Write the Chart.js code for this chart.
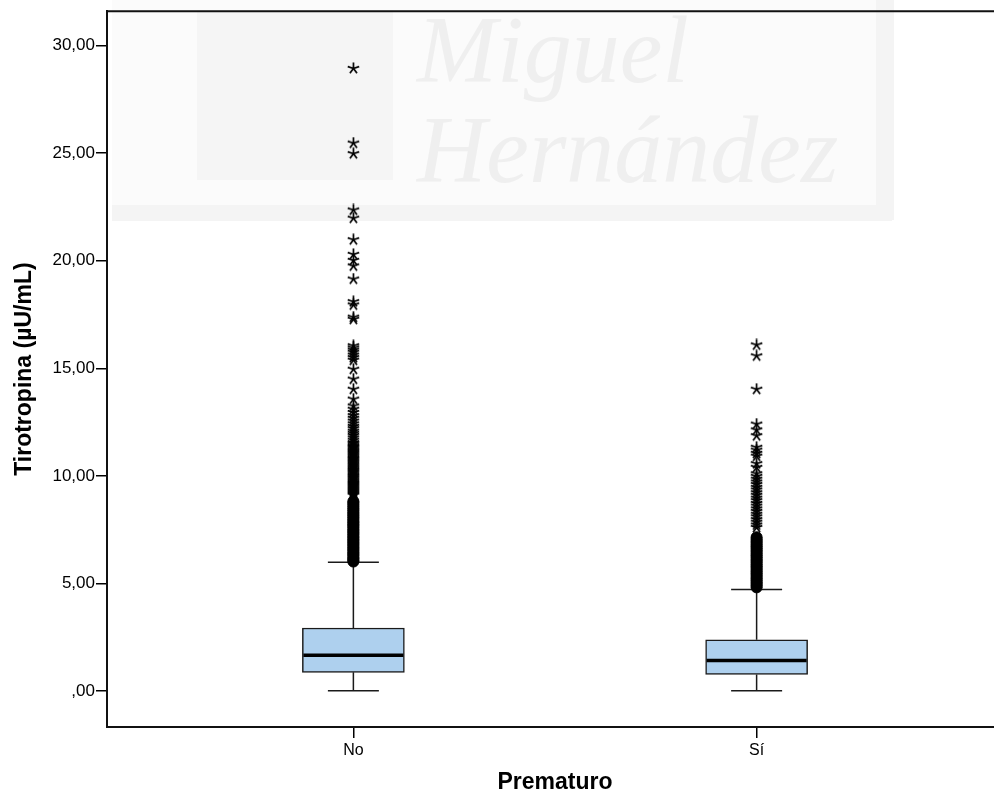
<!DOCTYPE html>
<html>
<head>
<meta charset="utf-8">
<script src="https://cdn.jsdelivr.net/npm/chart.js@4.4.1/dist/chart.umd.min.js"></script>
<style>
  html, body { margin: 0; padding: 0; background: #fff; overflow: hidden; }
</style>
</head>
<body>
<canvas id="boxChart" width="1010" height="800"></canvas>
<script>
// Boxplot: Tirotropina by Prematuro (SPSS style)
const categories = ['No', 'Sí'];
const whiskerLow = [0.01, 0.01];
const q1 = [0.87, 0.77];
const median = [1.67, 1.42];
const q3 = [2.93, 2.38];
const whiskerHigh = [5.99, 4.72];

// outliers (circles) and extremes (stars) per group
const circlesNo = [6.02, 6.08, 6.15, 6.21, 6.3, 6.37, 6.44, 6.52, 6.6, 6.67, 6.75, 6.83, 6.9, 6.98,
  7.05, 7.13, 7.2, 7.29, 7.36, 7.44, 7.51, 7.6, 7.68, 7.75, 7.83, 7.9, 7.99, 8.07, 8.15, 8.23,
  8.31, 8.4, 8.48, 8.57, 8.66, 8.75, 8.82];
const starsNo = [28.94, 25.47, 24.98, 22.36, 21.98, 20.98, 20.3, 20.02, 19.76, 19.15, 18.1, 17.95,
  17.38, 17.28, 16.05, 15.95, 15.85, 15.75, 15.62, 15.5, 15.38, 14.96, 14.5, 14.03, 13.57, 13.25,
  13.1, 12.95, 12.8, 12.68, 12.55, 12.42, 12.3, 12.2, 12.08, 11.98, 11.88, 11.77, 11.66, 11.55,
  11.5, 11.43, 11.37, 11.32, 11.26, 11.2, 11.15, 11.1, 11.04, 10.98, 10.93, 10.87, 10.81, 10.76,
  10.7, 10.65, 10.6, 10.54, 10.48, 10.42, 10.37, 10.31, 10.26, 10.2, 10.15, 10.09, 10.03, 9.98,
  9.92, 9.87, 9.81, 9.76, 9.7, 9.65, 9.6, 9.55, 9.5, 9.45, 9.4, 9.35, 9.3, 9.25, 9.2, 9.15, 9.1];
const circlesSi = [4.82, 4.9, 4.98, 5.06, 5.14, 5.22, 5.3, 5.39, 5.47, 5.55, 5.63, 5.72, 5.8, 5.88,
  5.97, 6.05, 6.13, 6.22, 6.3, 6.38, 6.47, 6.55, 6.64, 6.72, 6.8, 6.89, 6.97, 7.06, 7.15];
const starsSi = [16.09, 15.58, 14.03, 12.41, 12.14, 11.87, 11.33, 11.2, 11.05, 10.92, 10.57, 10.4,
  10.1, 9.98, 9.85, 9.72, 9.6, 9.47, 9.35, 9.22, 9.1, 8.97, 8.85, 8.72, 8.6, 8.47, 8.35, 8.22,
  8.1, 7.97, 7.85, 7.72, 7.6];

const yTicks = [0, 5, 10, 15, 20, 25, 30];

const FONT = 'Liberation Sans, Arial, sans-serif';
const BOX_W = 102;

// five-armed asterisk like SPSS extreme marker
function makeStar(size) {
  const c = document.createElement('canvas');
  c.width = size; c.height = size;
  const g = c.getContext('2d');
  const m = size / 2, r = size / 2 - 0.5;
  g.strokeStyle = '#000';
  g.lineWidth = 1.7;
  g.beginPath();
  for (let k = 0; k < 5; k++) {
    const a = -Math.PI / 2 + k * 2 * Math.PI / 5;
    g.moveTo(m, m);
    g.lineTo(m + r * Math.cos(a), m + r * Math.sin(a));
  }
  g.stroke();
  return c;
}
const starImg = makeStar(13);

const toPts = (vals, i) => vals.map(v => ({ x: i, y: v }));

// faint university watermark behind the plot
const watermark = {
  id: 'watermark',
  beforeDraw(chart) {
    const ctx = chart.ctx;
    ctx.save();
    ctx.fillStyle = '#fff';
    ctx.fillRect(0, 0, chart.width, chart.height);
    ctx.fillStyle = '#f4f4f4';
    ctx.fillRect(112, 205, 780, 16);
    ctx.fillRect(876, 0, 18, 220);
    ctx.fillStyle = '#fbfbfb';
    ctx.fillRect(112, 0, 764, 205);
    ctx.fillStyle = '#f5f5f5';
    ctx.fillRect(197, 10, 196, 170);
    ctx.fillStyle = '#efefef';
    ctx.font = 'italic 96px "Liberation Serif", serif';
    ctx.textBaseline = 'alphabetic';
    ctx.fillText('Miguel', 417, 82);
    ctx.fillText('Hernández', 417, 182);
    ctx.restore();
  }
};

// whiskers, caps and medians drawn through the scales
const boxParts = {
  id: 'boxParts',
  beforeDatasetsDraw(chart) {
    const { ctx, scales: { x, y } } = chart;
    ctx.save();
    ctx.strokeStyle = '#1a1a1a';
    ctx.lineWidth = 1.5;
    categories.forEach((c, i) => {
      const cx = x.getPixelForValue(i);
      const capHalf = BOX_W / 4;
      ctx.beginPath();
      ctx.moveTo(cx, y.getPixelForValue(q3[i]));
      ctx.lineTo(cx, y.getPixelForValue(whiskerHigh[i]));
      ctx.moveTo(cx, y.getPixelForValue(q1[i]));
      ctx.lineTo(cx, y.getPixelForValue(whiskerLow[i]));
      ctx.moveTo(cx - capHalf, y.getPixelForValue(whiskerHigh[i]));
      ctx.lineTo(cx + capHalf, y.getPixelForValue(whiskerHigh[i]));
      ctx.moveTo(cx - capHalf, y.getPixelForValue(whiskerLow[i]));
      ctx.lineTo(cx + capHalf, y.getPixelForValue(whiskerLow[i]));
      ctx.stroke();
    });
    ctx.restore();
  },
  afterDatasetsDraw(chart) {
    const { ctx, scales: { x, y } } = chart;
    ctx.save();
    ctx.strokeStyle = '#000';
    ctx.lineWidth = 3.5;
    categories.forEach((c, i) => {
      const cx = x.getPixelForValue(i);
      const my = y.getPixelForValue(median[i]);
      ctx.beginPath();
      ctx.moveTo(cx - BOX_W / 2 + 1, my);
      ctx.lineTo(cx + BOX_W / 2 - 1, my);
      ctx.stroke();
    });
    // frame top
    const a = chart.chartArea;
    ctx.lineWidth = 2;
    ctx.strokeStyle = '#111';
    ctx.beginPath();
    ctx.moveTo(a.left, a.top);
    ctx.lineTo(a.right, a.top);
    ctx.stroke();
    ctx.restore();
  }
};

const ctx = document.getElementById('boxChart').getContext('2d');

new Chart(ctx, {
  type: 'bar',
  data: {
    datasets: [
      {
        label: 'box',
        data: categories.map((c, i) => ({ x: i, y: [q1[i], q3[i]] })),
        backgroundColor: 'rgb(174, 208, 238)',
        borderColor: '#1a1a1a',
        borderWidth: 1.5,
        borderSkipped: false,
        barThickness: BOX_W
      },
      {
        type: 'scatter',
        label: 'outliers',
        data: toPts(circlesNo, 0).concat(toPts(circlesSi, 1)),
        pointStyle: 'circle',
        pointRadius: 5.5,
        backgroundColor: '#000',
        borderColor: '#000',
        borderWidth: 1
      },
      {
        type: 'scatter',
        label: 'extremes',
        data: toPts(starsNo, 0).concat(toPts(starsSi, 1)),
        pointStyle: starImg,
        pointRadius: 6
      }
    ]
  },
  options: {
    responsive: false,
    animation: false,
    layout: { padding: { top: 9, right: 5.5, left: 0, bottom: 0 } },
    plugins: { legend: { display: false }, tooltip: { enabled: false } },
    scales: {
      x: {
        type: 'linear',
        offset: false,
        min: -0.611,
        max: 1.611,
        afterBuildTicks: s => { s.ticks = categories.map((c, i) => ({ value: i })); },
        afterFit: s => { s.height = 73; },
        ticks: {
          callback: v => categories[v],
          color: '#000',
          padding: 3,
          font: { family: FONT, size: 16 }
        },
        grid: { offset: false, drawOnChartArea: false, tickLength: 11, color: '#000', lineWidth: 1.5 },
        border: { color: '#111', width: 2 },
        title: {
          display: true,
          text: 'Prematuro',
          color: '#000',
          font: { family: FONT, size: 23, weight: 'bold' },
          padding: { top: 0, bottom: 4 }
        }
      },
      y: {
        min: -1.67,
        max: 31.6,
        afterBuildTicks: s => { s.ticks = yTicks.map(v => ({ value: v })); },
        afterFit: s => { s.width = 107; },
        ticks: {
          callback: v => v === 0 ? ',00' : v.toFixed(2).replace('.', ','),
          color: '#000',
          padding: 1,
          font: { family: FONT, size: 17 }
        },
        grid: { drawOnChartArea: false, tickLength: 11, color: '#000', lineWidth: 1.5 },
        border: { color: '#111', width: 2 },
        title: {
          display: true,
          text: 'Tirotropina (µU/mL)',
          color: '#000',
          font: { family: FONT, size: 23, weight: 'bold' },
          padding: { top: 11, bottom: 0 }
        }
      }
    }
  },
  plugins: [watermark, boxParts]
});
</script>
</body>
</html>
